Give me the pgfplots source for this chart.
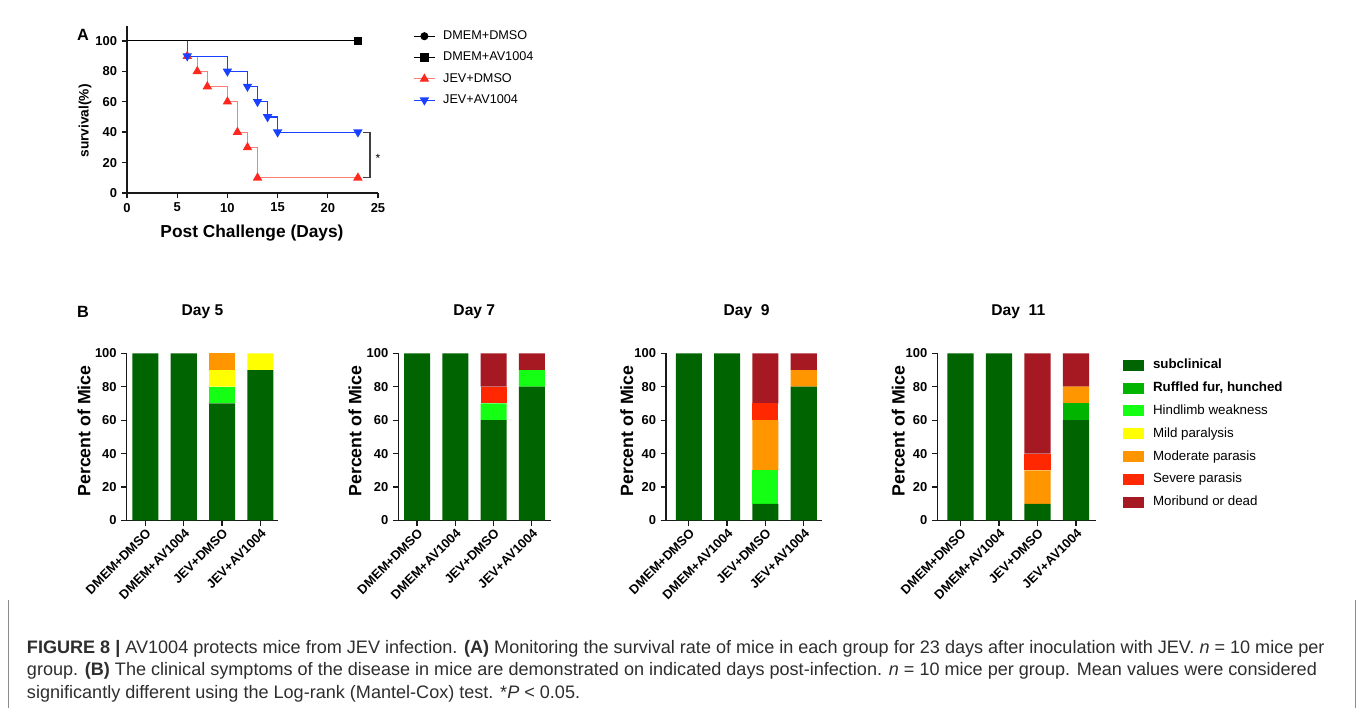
\documentclass[border=0pt]{standalone}
\usepackage{fontspec}
\setmainfont{Liberation Sans}
\usepackage{pgfplots}
\usepackage{pgfplotstable}
\pgfplotsset{compat=1.18}

\definecolor{subcl}{RGB}{0,100,0}
\definecolor{ruffled}{RGB}{0,180,0}
\definecolor{hindlimb}{RGB}{20,255,20}
\definecolor{mild}{RGB}{255,255,0}
\definecolor{moderate}{RGB}{255,150,0}
\definecolor{severe}{RGB}{255,40,0}
\definecolor{moribund}{RGB}{166,25,35}
\definecolor{kmred}{RGB}{255,40,30}
\definecolor{kmredline}{RGB}{255,125,115}
\definecolor{kmblue}{RGB}{25,65,255}

% clinical scores, percent of mice per group
\pgfplotstableread{
x sub ruf hind mild mod sev mor
0 100 0 0 0 0 0 0
1 100 0 0 0 0 0 0
2 70 0 10 10 10 0 0
3 90 0 0 10 0 0 0
}\dayfive
\pgfplotstableread{
x sub ruf hind mild mod sev mor
0 100 0 0 0 0 0 0
1 100 0 0 0 0 0 0
2 60 0 10 0 0 10 20
3 80 0 10 0 0 0 10
}\dayseven
\pgfplotstableread{
x sub ruf hind mild mod sev mor
0 100 0 0 0 0 0 0
1 100 0 0 0 0 0 0
2 10 0 20 0 30 10 30
3 80 0 0 0 10 0 10
}\daynine
\pgfplotstableread{
x sub ruf hind mild mod sev mor
0 100 0 0 0 0 0 0
1 100 0 0 0 0 0 0
2 10 0 0 0 20 10 60
3 60 10 0 0 10 0 20
}\dayeleven

\newcommand{\stackbars}[1]{%
  \addplot[fill=subcl] table[x=x,y=sub]{#1};
  \addplot[fill=ruffled] table[x=x,y=ruf]{#1};
  \addplot[fill=hindlimb] table[x=x,y=hind]{#1};
  \addplot[fill=mild] table[x=x,y=mild]{#1};
  \addplot[fill=moderate] table[x=x,y=mod]{#1};
  \addplot[fill=severe] table[x=x,y=sev]{#1};
  \addplot[fill=moribund] table[x=x,y=mor]{#1};
}

\pgfplotsset{
  prism/.style={
    scale only axis,
    axis lines=left,
    axis line style={-, line width=1pt, black!90},
    every tick/.style={black!90, line width=1pt},
    tick align=outside,
    major tick length=4pt,
    /pgf/number format/assume math mode=true,
    ticklabel style={font=\fontsize{9.7}{11}\selectfont\bfseries},
    clip=false,
  },
  dayax/.style={
    prism,
    anchor=south west,
    height=125.4pt,
    ybar stacked, bar width=0.68,
    ymin=0, ymax=100, ytick={0,20,...,100},
    xtick={0,1,2,3},
    xticklabels={DMEM+DMSO,DMEM+AV1004,JEV+DMSO,JEV+AV1004},
    x tick label style={rotate=45, anchor=north east, inner sep=1pt},
    every axis plot/.append style={draw=none},
  },
}

\begin{document}
\begin{tikzpicture}
\path[use as bounding box, fill=white] (0pt,0pt) rectangle (1017.75pt,535.5pt);

% ---------- A: survival ----------
\begin{axis}[prism,
  anchor=south west, at={(95.25pt,390.75pt)},
  width=188.25pt, height=124.9pt,
  xmin=0, xmax=25, ymin=0, ymax=109.5,
  xtick={0,5,...,25}, ytick={0,20,...,100},
  legend style={at={(1.1394,0.979)}, anchor=north west, draw=none, fill=none,
    inner sep=0pt, row sep=7pt,
    font=\fontsize{9.5}{11}\selectfont,
    nodes={inner sep=0pt, text height=7pt, text depth=2pt, anchor=west},
    /tikz/every odd column/.append style={column sep=5.8pt}},
  legend cell align=left,
  legend image code/.code={\draw[#1, mark indices={2}] plot coordinates {(0pt,0pt) (7.9pt,0pt) (15.75pt,0pt)};},
]
\addplot[black, line width=0.8pt, mark=*, mark size=2.6pt, mark indices={2}]
  coordinates {(0,100) (23,100)};
\addplot[black, line width=0.8pt, mark=square*, mark size=2.8pt, mark indices={2}]
  coordinates {(0,100) (23,100)};
\addplot[kmredline, line width=0.9pt, const plot mark left, mark=triangle*,
  mark size=3.2pt, mark options={fill=kmred, draw=kmred}, mark indices={2,3,4,5,6,7,8,9}]
  coordinates {(6,100) (6,90) (7,80) (8,70) (10,60) (11,40) (12,30) (13,10) (23,10)};
\addplot[kmblue, line width=0.9pt, const plot mark left, mark=triangle*,
  mark size=3.2pt, mark options={fill=kmblue, draw=kmblue, rotate=180}, mark indices={2,3,4,5,6,7,8}]
  coordinates {(6,100) (6,90) (10,80) (12,70) (13,60) (14,50) (15,40) (23,40)};
\legend{DMEM+DMSO,DMEM+AV1004,JEV+DMSO,JEV+AV1004}
\draw[black!75, line width=0.8pt] (axis cs:23.5,40) -- (axis cs:24.2,40) -- (axis cs:24.2,10) -- (axis cs:23.5,10);
\node[font=\fontsize{9}{10}\selectfont] at (axis cs:25,23) {*};
\end{axis}

% ---------- B: clinical scores ----------
\begin{axis}[dayax, at={(95.0pt,145.125pt)}, width=113.5pt, xmin=-0.49, xmax=3.46]
\stackbars{\dayfive}
\end{axis}
\begin{axis}[dayax, at={(298.7pt,145.125pt)}, width=114.5pt, xmin=-0.49, xmax=3.5]
\stackbars{\dayseven}
\end{axis}
\begin{axis}[dayax, at={(499.5pt,145.125pt)}, width=116.8pt, xmin=-0.595, xmax=3.47]
\stackbars{\daynine}
\end{axis}
\begin{axis}[dayax, at={(703pt,145.125pt)}, width=118.8pt, xmin=-0.6, xmax=3.51,
  legend style={at={(1.1705,0.968)}, anchor=north west, draw=none, fill=none,
    inner sep=0pt, row sep=7.6pt,
    font=\fontsize{10}{12}\selectfont,
    nodes={inner sep=0pt, text height=7.5pt, text depth=2pt, anchor=west},
    /tikz/every odd column/.append style={column sep=7pt}},
  legend cell align=left,
  legend image code/.code={\fill[#1] (0pt,-4.1pt) rectangle (15.5pt,4.1pt);},
]
\stackbars{\dayeleven}
\legend{{\textbf{subclinical}},{\textbf{Ruffled fur, hunched}},{Hindlimb weakness},{Mild paralysis},{Moderate parasis},{Severe parasis},{Moribund or dead}}
\end{axis}

% ---------- labels, in pixel coordinates ----------
\begin{scope}[x=0.75pt, y=-0.75pt, shift={(0pt,535.5pt)}]
\node[font=\fontsize{12.2}{14}\selectfont\bfseries] at (83,35) {A};
\node[font=\fontsize{12.2}{14}\selectfont\bfseries] at (83,311.5) {B};
\node[font=\fontsize{13}{15}\selectfont\bfseries] at (252,233) {Post Challenge (Days)};
\node[font=\fontsize{10.3}{12}\selectfont\bfseries, rotate=90] at (85,121) {survival(\%)};

\foreach \cx/\lx/\t in {202.5/84/Day 5, 474.3/355/Day 7, 746.7/626.7/Day\ \ 9, 1018.3/898.3/Day\ \ 11}{
  \node[font=\fontsize{11.7}{13}\selectfont\bfseries] at (\cx,311.5) {\t};
  \node[font=\fontsize{13.3}{15}\selectfont\bfseries, rotate=90] at (\lx,431) {Percent of Mice};
}

\draw[black!45, line width=0.75pt] (8,600) -- (8,708);
\draw[black!45, line width=0.75pt] (1355,600) -- (1355,708);
\begin{scope}[every node/.style={anchor=base west, inner sep=0pt, text=black!82, font=\fontsize{13.55}{16}\selectfont}]
\node at (26.7,653.5) {\textbf{FIGURE 8 \textbar} AV1004 protects mice from JEV infection. \textbf{(A)} Monitoring the survival rate of mice in each group for 23 days after inoculation with JEV. \textit{n} = 10 mice per};
\node at (26.7,676) {group. \textbf{(B)} The clinical symptoms of the disease in mice are demonstrated on indicated days post-infection. \textit{n} = 10 mice per group. Mean values were considered};
\node at (26.7,698.5) {significantly different using the Log-rank (Mantel-Cox) test. *\textit{P} \textless{} 0.05.};
\end{scope}
\end{scope}
\end{tikzpicture}
\end{document}
